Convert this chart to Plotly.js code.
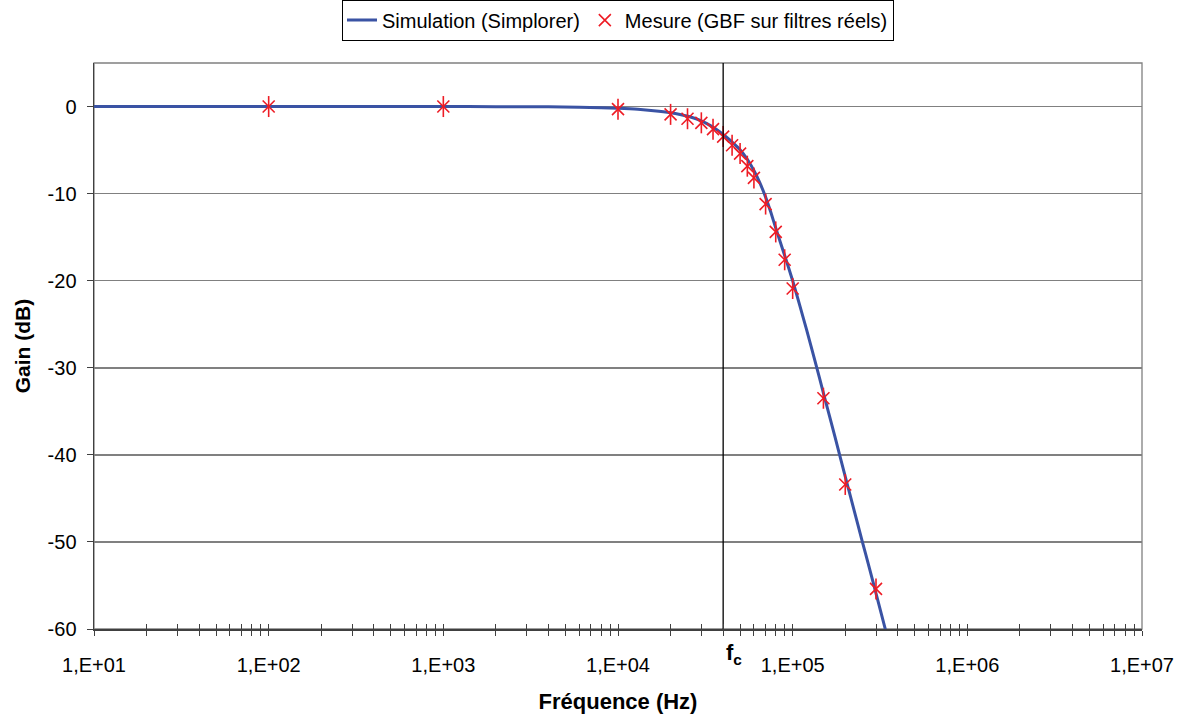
<!DOCTYPE html>
<html>
<head>
<meta charset="utf-8">
<script src="https://cdn.plot.ly/plotly-3.0.1.min.js"></script>
<style>html,body{margin:0;padding:0;background:#fff}#chart{width:1188px;height:718px}</style>
</head>
<body>
<div id="chart"></div>
<script>
// Simulation curve (Simplorer)
const simFreq = [10, 100, 1000, 2000, 4000, 6000, 8000, 10000, 13000, 16000, 20000, 23000, 26000, 30000, 34000, 38000, 42000, 46000, 50000, 55000, 60000, 65000, 70000, 75000, 80000, 90000, 100000, 110000, 120000, 135000, 150000, 175000, 200000, 225000, 250000, 275000, 300000, 340000];
const simGain = [0, 0, 0, -0.01, -0.03, -0.07, -0.13, -0.2, -0.32, -0.48, -0.72, -0.95, -1.2, -1.65, -2.22, -2.86, -3.55, -4.25, -4.95, -6.05, -7.35, -8.8, -10.4, -12.15, -13.95, -17.1, -20.0, -22.9, -25.6, -29.4, -32.9, -38.0, -42.5, -46.4, -49.9, -53.0, -55.9, -60.1];

// Measurements (GBF on real filters)
const mesFreq = [100, 1000, 10000, 20000, 25000, 30000, 35000, 40000, 45000, 50000, 55000, 60000, 70000, 80000, 90000, 100000, 150000, 200000, 300000];
const mesGain = [0, 0, -0.3, -0.9, -1.4, -1.87, -2.6, -3.45, -4.45, -5.4, -6.85, -8.2, -11.2, -14.4, -17.6, -20.9, -33.5, -43.4, -55.4];

const fc = 40000;
const fcLineY = [-60, 5];

const tickVals = [10, 100, 1000, 10000, 100000, 1000000, 10000000];
const tickText = ['1,E+01', '1,E+02', '1,E+03', '1,E+04', '1,E+05', '1,E+06', '1,E+07'];
const yTicks = [0, -10, -20, -30, -40, -50, -60];
const yTickText = ['0', '-10', '-20', '-30', '-40', '-50', '-60'];

const FONT = 'Arial, "Liberation Sans", sans-serif';
const RED = '#ee1c25';
const BLUE = '#3a53a4';

const traces = [
  {x: [fc, fc], y: fcLineY, mode: 'lines', xaxis: 'x2', line: {color: '#000000', width: 1.3}, showlegend: false, hoverinfo: 'skip'},
  {x: simFreq, y: simGain, mode: 'lines', name: 'Simulation (Simplorer)', line: {color: BLUE, width: 3, shape: 'spline', smoothing: 0.6}},
  {x: mesFreq, y: mesGain, mode: 'markers', name: 'Mesure (GBF sur filtres réels)', legendgroup: 'mes',
   marker: {symbol: 'x-thin-open', size: 12, color: RED, line: {color: RED, width: 1.6}}},
  {x: mesFreq, y: mesGain, mode: 'markers', showlegend: false, legendgroup: 'mes', hoverinfo: 'skip',
   marker: {symbol: 'line-ns-open', size: 15, color: RED, line: {color: RED, width: 1.6}}}
];

const layout = {
  width: 1188, height: 718,
  margin: {l: 94, r: 46, t: 63, b: 89, pad: 0, autoexpand: false},
  paper_bgcolor: '#ffffff', plot_bgcolor: '#ffffff',
  font: {family: FONT, color: '#000'},
  showlegend: true,
  legend: {orientation: 'h', x: 0.5, xanchor: 'center', y: 1.112, yanchor: 'top',
           bordercolor: '#000', borderwidth: 1, font: {family: FONT, size: 20, color: '#000'},
           itemwidth: 30, tracegroupgap: 0, bgcolor: '#fff'},
  xaxis: {
    type: 'log', range: [1, 7], tickmode: 'array', tickvals: tickVals, ticktext: tickText,
    ticks: 'outside', ticklen: 5, tickwidth: 1, tickcolor: '#404040',
    minor: {tickmode: 'linear', dtick: 'D1', ticks: 'outside', ticklen: 5, tickwidth: 1, tickcolor: '#404040', showgrid: false},
    showgrid: false, zeroline: false, showline: true, linecolor: '#404040', linewidth: 1.5,
    tickfont: {family: FONT, size: 20, color: '#000'}, ticklabelstandoff: 12,
    title: {text: '<b>Fréquence (Hz)</b>', font: {family: FONT, size: 22, color: '#000'}, standoff: 19},
    fixedrange: true
  },
  xaxis2: {type: 'log', range: [1, 7], overlaying: 'x', side: 'bottom', anchor: 'y',
           tickmode: 'array', tickvals: tickVals, showticklabels: false,
           ticks: 'inside', ticklen: 5, tickwidth: 1, tickcolor: '#404040',
           minor: {tickmode: 'linear', dtick: 'D1', ticks: 'inside', ticklen: 5, tickwidth: 1, tickcolor: '#404040', showgrid: false},
           showgrid: false, zeroline: false, showline: false},
  yaxis: {range: [-60, 5], tickmode: 'array', tickvals: yTicks, ticktext: yTickText,
          ticks: 'outside', ticklen: 6, tickwidth: 1, tickcolor: '#404040',
          showgrid: true, gridcolor: '#808080', gridwidth: 1.5, zeroline: false,
          showline: true, linecolor: '#404040', linewidth: 1.5,
          tickfont: {family: FONT, size: 20, color: '#000'}, ticklabelstandoff: 6,
          title: {text: '<b>Gain (dB)</b>', font: {family: FONT, size: 21, color: '#000'}, standoff: 11},
          fixedrange: true},
  shapes: [{type: 'rect', xref: 'paper', yref: 'paper', x0: 0, x1: 1, y0: 0, y1: 1,
            line: {color: '#808080', width: 1.3}, layer: 'below'}],
  annotations: [{x: Math.log10(fc), xref: 'x', y: -0.045, yref: 'paper', xanchor: 'left', yanchor: 'middle',
                 xshift: 1, showarrow: false, text: '<b>f<sub>c</sub></b>', font: {family: FONT, size: 22, color: '#000'}}]
};

Plotly.newPlot('chart', traces, layout, {displayModeBar: false, staticPlot: true});
</script>
</body>
</html>
